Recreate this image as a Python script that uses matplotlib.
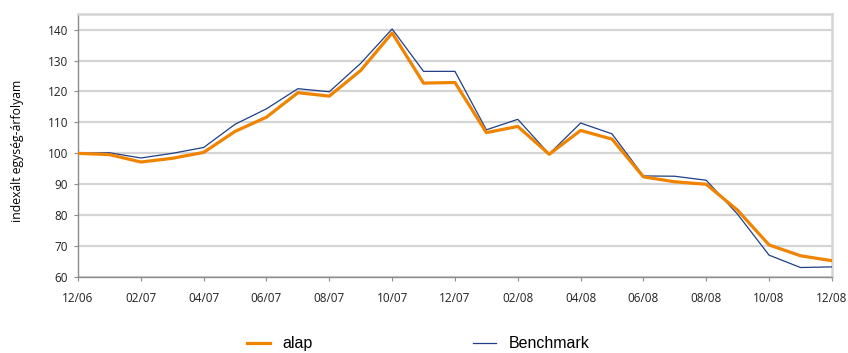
import matplotlib
matplotlib.use("Agg")
import matplotlib.pyplot as plt

months = ["12/06", "01/07", "02/07", "03/07", "04/07", "05/07", "06/07", "07/07", "08/07",
          "09/07", "10/07", "11/07", "12/07", "01/08", "02/08", "03/08", "04/08", "05/08",
          "06/08", "07/08", "08/08", "09/08", "10/08", "11/08", "12/08"]
alap = [100, 99.6, 97.2, 98.4, 100.3, 107.1, 111.7, 119.6, 118.5, 126.8, 138.9, 122.7, 122.9,
        106.7, 108.7, 99.7, 107.4, 104.6, 92.4, 90.8, 90.0, 81.6, 70.4, 66.9, 65.3]
benchmark = [100, 100.2, 98.5, 100.0, 101.9, 109.4, 114.4, 120.9, 119.9, 129.1, 140.2, 126.5, 126.5,
             107.6, 111.0, 99.8, 109.8, 106.3, 92.7, 92.6, 91.3, 80.3, 67.1, 63.1, 63.3]
yticks = [60, 70, 80, 90, 100, 110, 120, 130, 140]
series_names = ["alap", "Benchmark"]

fig = plt.figure(figsize=(8.48, 3.53), dpi=100)
ax = fig.add_axes([0.092, 0.215, 0.889, 0.745])

x = list(range(len(months)))
ax.plot(x, benchmark, color="#1f3f86", lw=0.9, label=series_names[1], zorder=3)
ax.plot(x, alap, color="#f08300", lw=2.3, label=series_names[0], zorder=4)

ax.set_xlim(0, len(months) - 1)
ax.set_ylim(60, 145)
ax.set_yticks(yticks)
ax.set_xticks(x[::2])
ax.set_xticklabels(months[::2])
ax.grid(axis="y", color="#d4d4d4", lw=1.6)
ax.set_axisbelow(True)

for s in ["top", "right"]:
    ax.spines[s].set_color("#d4d4d4")
    ax.spines[s].set_linewidth(1.8)
for s in ["left", "bottom"]:
    ax.spines[s].set_color("#8c8c8c")
    ax.spines[s].set_linewidth(1.0)

ax.tick_params(axis="both", direction="out", length=3, width=0.8, color="#8c8c8c",
               labelsize=8.5, labelcolor="#222222", pad=4)
for lab in ax.get_xticklabels() + ax.get_yticklabels():
    lab.set_family("Open Sans")
ax.tick_params(axis="x", pad=8)

ax.set_ylabel("indexált egység-árfolyam", fontsize=8.8, family="Open Sans")
ax.yaxis.set_label_coords(-0.072, 0.479)

h, l = ax.get_legend_handles_labels()
leg = fig.legend([h[1], h[0]], [l[1], l[0]], loc="center", bbox_to_anchor=(0.493, 0.026),
                 ncol=2, frameon=False, handlelength=1.45, handletextpad=0.8,
                 columnspacing=10, prop={"family": "Liberation Sans", "size": 11.5})
leg.get_lines()[0].set_linewidth(2.3)

fig.savefig("out.png", dpi=100)
